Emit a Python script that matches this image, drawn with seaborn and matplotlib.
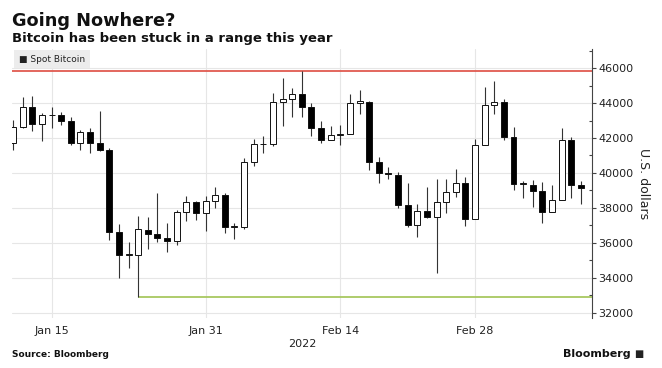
import pandas as pd
import numpy as np
import matplotlib
matplotlib.use("Agg")
import matplotlib.pyplot as plt
from matplotlib.ticker import MultipleLocator
import seaborn as sns

# Daily Spot Bitcoin candles, Jan 11 - Mar 11 2022
start_date = "2022-01-11"
opens = [41700, 42650, 43800, 42820, 43330, 43300, 42990, 41710, 42370, 41710,
         41290, 36610, 35310, 35320, 36750, 36520, 36270, 36120, 37760, 38330,
         37700, 38370, 38750, 36880, 36900, 40620, 41640, 41650, 44090, 44220,
         44510, 43770, 42560, 41890, 42180, 42220, 43990, 44090, 40650, 39990,
         39890, 38170, 37000, 37850, 37500, 38360, 38930, 39450, 37370, 41610,
         43880, 44090, 42080, 39370, 39320, 38970, 37790, 38440, 41860, 39300]
highs = [43040, 44340, 44430, 43460, 43750, 43480, 43200, 42470, 42560, 43520,
         41420, 37090, 36020, 37510, 37470, 38880, 37160, 37890, 38690, 38400,
         38690, 39210, 38850, 37130, 40850, 41930, 42090, 44570, 45450, 44850,
         45850, 44030, 42980, 42700, 42750, 44510, 44760, 44130, 40940, 40370,
         40080, 39430, 38250, 39220, 39640, 39640, 40210, 39790, 41930, 44950,
         45290, 44220, 42660, 39560, 39600, 39470, 39320, 42560, 42080, 39560]
lows = [41290, 42560, 42380, 41840, 42600, 42720, 41610, 41290, 41170, 41230,
        36170, 33980, 34550, 32900, 35660, 36040, 35450, 35870, 37240, 37320,
        36650, 37990, 36550, 36230, 36790, 40410, 41170, 41520, 42700, 43190,
        43230, 42090, 41700, 41890, 41610, 42220, 43380, 40180, 39450, 39640,
        37980, 36930, 36330, 37410, 34300, 37730, 38650, 36990, 37370, 41610,
        43380, 41890, 39030, 38550, 38080, 37120, 37790, 38440, 38550, 38210]
closes = [42650, 43800, 42820, 43330, 43300, 42990, 41710, 42370, 41710, 41290,
          36610, 35320, 35340, 36770, 36520, 36270, 36120, 37760, 38310, 37700,
          38370, 38750, 36880, 36950, 40620, 41650, 41670, 44090, 44220, 44510,
          43770, 42560, 41890, 42200, 42210, 43990, 44130, 40650, 39990, 39950,
          38170, 37000, 37850, 37500, 38360, 38930, 39450, 37370, 41610, 43880,
          44090, 42080, 39370, 39400, 38970, 37790, 38440, 41860, 39300, 39130]

range_high = 45850
range_low = 32900
range_low_start = "2022-01-24"

tick_dates = ["2022-01-15", "2022-01-31", "2022-02-14", "2022-02-28"]
tick_labels = ["Jan 15", "Jan 31", "Feb 14", "Feb 28"]
y_ticks = [32000, 34000, 36000, 38000, 40000, 42000, 44000, 46000]

df = pd.DataFrame({"open": opens, "high": highs, "low": lows, "close": closes})
df["date"] = pd.date_range(start_date, periods=len(df), freq="D")
df["up"] = df["close"] >= df["open"]

sns.set_style("white")
plt.rcParams["font.family"] = ["DejaVu Sans"]

fig = plt.figure(figsize=(6.62, 3.68), dpi=100)
ax = fig.add_axes([0.018, 0.136, 0.877, 0.731])

grid_c = "#e6e6e6"
for y in y_ticks:
    ax.axhline(y, color=grid_c, lw=0.8, zorder=0)
for d in tick_dates:
    ax.axvline(pd.Timestamp(d), color=grid_c, lw=0.8, zorder=0)

# range lines
ax.hlines(range_high, pd.Timestamp("2022-01-10"), pd.Timestamp("2022-03-14"),
          color="#e05a50", lw=1.3, zorder=1)
ax.hlines(range_low, pd.Timestamp(range_low_start), pd.Timestamp("2022-03-14"),
          color="#a8c860", lw=1.3, zorder=1)

# wicks
ax.vlines(df["date"], df["low"], df["high"], color="#333333", lw=0.8, zorder=2)
# bodies
body_bottom = df[["open", "close"]].min(axis=1)
body_h = (df["close"] - df["open"]).abs().clip(lower=40)
face = np.where(df["up"], "white", "black")
ax.bar(df["date"], body_h, bottom=body_bottom, width=0.62, color=face,
       edgecolor="#111111", linewidth=0.7, zorder=3)

ax.set_xlim(pd.Timestamp("2022-01-10 21:00"), pd.Timestamp("2022-03-12 05:00"))
ax.set_ylim(31700, 47100)

ax.set_xticks([pd.Timestamp(d) for d in tick_dates])
ax.set_xticklabels(tick_labels)
ax.tick_params(axis="x", length=0, pad=6, labelsize=8, labelcolor="#222222")

ax.yaxis.tick_right()
ax.yaxis.set_label_position("right")
ax.set_yticks(y_ticks)
ax.set_yticklabels([str(v) for v in y_ticks])
ax.yaxis.set_minor_locator(MultipleLocator(1000))
ax.tick_params(axis="y", which="major", direction="out", length=3, width=0.8,
               color="#444444", labelsize=8, labelcolor="#222222", pad=1)
ax.tick_params(axis="y", which="minor", direction="in", length=2, width=0.8,
               color="#444444")
ax.set_ylabel("U.S. dollars", rotation=270, labelpad=12, fontsize=9,
              color="#222222")
ax.set_xlabel("2022", fontsize=8, color="#222222", labelpad=2)

for side in ["top", "left", "bottom"]:
    ax.spines[side].set_visible(False)
ax.spines["right"].set_color("#444444")
ax.spines["right"].set_linewidth(0.8)

# legend tag
ax.text(0.012, 0.978, "\u25a0 Spot Bitcoin", transform=ax.transAxes,
        fontsize=6.5, color="#222222", va="top", ha="left", zorder=5,
        bbox=dict(boxstyle="square,pad=0.5", fc="#ececec", ec="none"))

fig.text(0.018, 0.929, "Going Nowhere?", fontsize=12.8, fontweight="bold",
         va="baseline", color="#111111")
fig.text(0.018, 0.887, "Bitcoin has been stuck in a range this year",
         fontsize=9.5, fontweight="bold", va="baseline", color="#111111")
fig.text(0.018, 0.03, "Source: Bloomberg", fontsize=6.5, fontweight="bold",
         va="baseline", color="#111111")
fig.text(0.952, 0.03, "Bloomberg", fontsize=8, fontweight="bold",
         va="baseline", ha="right", color="#111111")
fig.text(0.958, 0.03, "\u25a0", fontsize=7, va="baseline", ha="left",
         color="#222222")

fig.savefig("out.png", dpi=100)
